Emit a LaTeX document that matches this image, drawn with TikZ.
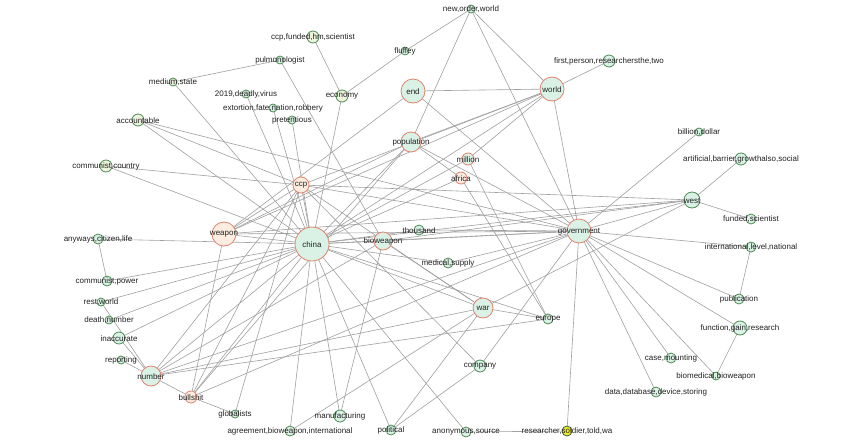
\documentclass[tikz,border=0pt]{standalone}
\usepackage{fontspec}
\setmainfont{Liberation Sans}
\definecolor{edgec}{HTML}{A0A0A0}
\definecolor{mint}{HTML}{DAF1E5}
\definecolor{peach}{HTML}{FCEDE0}
\definecolor{cream}{HTML}{EDF3DD}
\definecolor{salmon}{HTML}{E0846F}
\definecolor{gborder}{HTML}{4E8B52}
\definecolor{yel}{HTML}{F0EC28}
\definecolor{txt}{HTML}{222222}
\pgfdeclarelayer{background}
\pgfsetlayers{background,main}
\tikzset{
  vtx/.style={circle, inner sep=0pt, line width=0.8pt},
  major/.style={vtx, draw=salmon, fill=mint},
  majorp/.style={vtx, draw=salmon, fill=peach},
  minor/.style={vtx, draw=gborder, fill=mint},
  minorc/.style={vtx, draw=gborder, fill=cream},
  minory/.style={vtx, draw=gborder!70!black, fill=yel},
  lbl/.style={font=\fontsize{8}{9}\selectfont, text=txt, inner sep=0pt},
  edge/.style={draw=edgec, line width=0.6pt}
}
\newcommand{\vx}[5]{\node[#5, minimum size=#4pt] (#1) at (#2,#3) {};}
\begin{document}
\begin{tikzpicture}[x=1pt,y=-1pt]
\begin{pgfonlayer}{background}
\fill[white] (0,0) rectangle (850,442);
\end{pgfonlayer}
\useasboundingbox (0,0) rectangle (850,442);
\vx{nwo}{471}{9}{8}{minor}
\vx{first}{609}{61}{12}{minor}
\vx{world}{552}{89}{24}{major}
\vx{end}{413}{91}{24}{major}
\vx{fluffey}{405}{51}{8}{minor}
\vx{ccpf}{313}{37}{12}{minorc}
\vx{pulmo}{280}{60}{8}{minor}
\vx{medium}{173}{82}{8}{minorc}
\vx{virus}{246}{94}{8}{minor}
\vx{economy}{342}{96}{12}{minorc}
\vx{extortion}{273}{108}{8}{minor}
\vx{pret}{292}{120}{8}{minor}
\vx{acc}{138}{120}{12}{minorc}
\vx{pop}{411}{142}{20}{major}
\vx{commc}{106}{166}{12}{minorc}
\vx{ccp}{301}{185}{16}{majorp}
\vx{million}{468}{159}{12}{major}
\vx{africa}{461}{178}{12}{majorp}
\vx{billion}{699}{132}{8}{minor}
\vx{artificial}{741}{159}{12}{minor}
\vx{west}{692}{200}{16}{minor}
\vx{funded}{751}{219}{10}{minor}
\vx{weapon}{224}{234}{24}{majorp}
\vx{china}{312}{244}{34}{major}
\vx{bio}{383}{241}{18}{major}
\vx{thousand}{419}{230}{10}{minor}
\vx{gov}{579}{231}{24}{major}
\vx{anyways}{98}{239}{10}{minor}
\vx{intl}{751}{247}{10}{minor}
\vx{medical}{448}{263}{10}{minor}
\vx{commp}{107}{281}{10}{minor}
\vx{rest}{101}{302}{8}{minor}
\vx{death}{109}{320}{8}{minor}
\vx{inacc}{119}{338}{12}{minor}
\vx{pub}{739}{299}{10}{minor}
\vx{war}{483}{308}{20}{major}
\vx{europe}{548}{319}{10}{minor}
\vx{fgr}{740}{328}{14}{minor}
\vx{report}{121}{360}{8}{minor}
\vx{number}{151}{376}{20}{major}
\vx{company}{480}{366}{12}{minor}
\vx{case}{671}{358}{10}{minor}
\vx{biomed}{716}{376}{8}{minor}
\vx{bullshit}{191}{397}{12}{majorp}
\vx{data}{656}{392}{10}{minor}
\vx{glob}{235}{414}{8}{minor}
\vx{manuf}{340}{416}{12}{minor}
\vx{agree}{290}{431}{10}{minor}
\vx{political}{391}{430}{10}{minor}
\vx{anon}{466}{432}{10}{minor}
\vx{researcher}{567}{431}{10}{minory}
\begin{pgfonlayer}{background}
\foreach \a/\b in {
 nwo/fluffey, nwo/pop, nwo/world, nwo/gov, fluffey/economy, ccpf/economy,
 pulmo/medium, pulmo/bio, first/world, end/world, end/gov, weapon/end,
 world/gov, world/pop, world/ccp, world/china, world/million, world/weapon,
 pop/china, pop/weapon, pop/africa, pop/gov, million/china, million/europe,
 africa/europe, africa/china,
 china/medium, china/virus, china/extortion, china/pret, china/economy, china/acc,
 china/commc, china/ccp, china/weapon, china/anyways, china/commp, china/rest,
 china/death, china/inacc, china/number, china/bullshit, china/agree, china/manuf,
 china/political, china/anon, china/war, china/europe, china/medical, china/bio,
 china/thousand, china/gov, china/west,
 acc/ccp, acc/gov, commc/ccp, weapon/ccp, weapon/gov, weapon/west,
 anyways/commp, rest/number, inacc/number, report/number,
 number/ccp, number/bio, number/gov, number/europe, number/war, number/bullshit,
 bullshit/ccp, bullshit/glob, bullshit/gov, bullshit/weapon, bullshit/pop, glob/ccp,
 manuf/bio, agree/war, political/war, political/company, anon/researcher,
 company/gov, ccp/company, ccp/war, ccp/west, ccp/gov,
 war/europe, war/west, bio/war, bio/gov, bio/west, thousand/gov, medical/gov,
 gov/billion, gov/west, gov/intl, gov/pub, gov/fgr, gov/biomed, gov/case,
 gov/data, gov/researcher, west/artificial, west/funded, intl/pub, fgr/biomed}
 {\path[edge] (\a.center) -- (\b.center);}
\end{pgfonlayer}
\foreach \n/\t in {nwo/{new,order,world}, first/{first,person,researchersthe,two},
 world/world, end/end, fluffey/fluffey, ccpf/{ccp,funded,hm,scientist},
 pulmo/pulmonologist, medium/{medium,state}, virus/{2019,deadly,virus},
 economy/economy, extortion/{extortion,fate,nation,robbery}, pret/pretentious,
 acc/accountable, pop/population, commc/{communist,country}, ccp/ccp,
 million/million, africa/africa, billion/{billion,dollar},
 artificial/{artificial,barrier,growthalso,social}, west/west,
 funded/{funded,scientist}, weapon/weapon, china/china, bio/bioweapon,
 thousand/thousand, gov/government, anyways/{anyways,citizen,life},
 intl/{international,level,national}, medical/{medical,supply},
 commp/{communist,power}, rest/{rest,world}, death/{death,number},
 inacc/inaccurate, pub/publication, war/war, europe/europe,
 fgr/{function,gain,research}, report/reporting, number/number,
 company/company, case/{case,mounting}, biomed/{biomedical,bioweapon},
 bullshit/bullshit, data/{data,database,device,storing}, glob/globalists,
 manuf/manufacturing, agree/{agreement,bioweapon,international},
 political/political, anon/{anonymous,source}, researcher/{researcher,soldier,told,wa}}
 {\node[lbl] (l-\n) at ([yshift=-0.6pt]\n.center) {\t};}
\end{tikzpicture}
\end{document}
